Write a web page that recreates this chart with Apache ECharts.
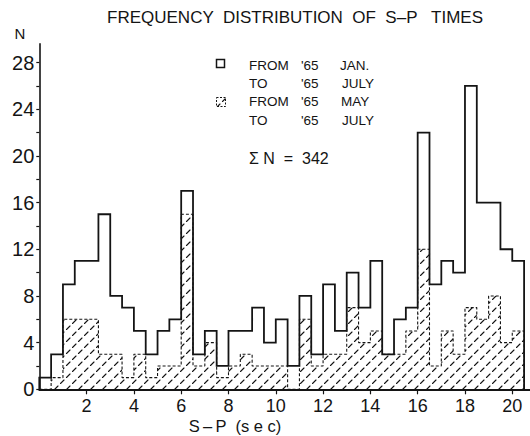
<!DOCTYPE html>
<html>
<head>
<meta charset="utf-8">
<title>Frequency distribution of S-P times</title>
<script src="https://cdn.jsdelivr.net/npm/echarts@6/dist/echarts.min.js"></script>
<style>
  html, body { margin: 0; padding: 0; background: #fff; }
  #chart { width: 530px; height: 436px; }
</style>
</head>
<body>
<div id="chart"></div>
<script>
// Lower edge of each 0.5 s S-P bin (sec)
const binStarts = [0, 0.5, 1, 1.5, 2, 2.5, 3, 3.5, 4, 4.5, 5, 5.5, 6, 6.5, 7, 7.5, 8, 8.5, 9, 9.5,
  10, 10.5, 11, 11.5, 12, 12.5, 13, 13.5, 14, 14.5, 15, 15.5, 16, 16.5, 17, 17.5, 18, 18.5, 19, 19.5, 20];
const binWidth = 0.5;

// Counts per bin, '65 Jan. to '65 July (total 342)
const janToJuly = [1, 3, 9, 11, 11, 15, 8, 7, 5, 3, 5, 6, 17, 3, 5, 2, 5, 5, 7, 4,
  6, 2, 8, 3, 9, 5, 10, 7, 11, 3, 6, 7, 22, 9, 11, 10, 26, 16, 16, 12, 11];

// Counts per bin, '65 May to '65 July
const mayToJuly = [0, 1, 6, 6, 6, 3, 3, 1, 3, 1, 2, 2, 15, 2, 4, 1, 2, 3, 2, 2,
  2, 0, 6, 2, 3, 3, 7, 4, 5, 3, 3, 5, 12, 2, 5, 3, 7, 6, 8, 4, 5];

const xTickLabels = [2, 4, 6, 8, 10, 12, 14, 16, 18, 20];
const yTickLabels = [0, 4, 8, 12, 16, 20, 24, 28];
const yTickMarks = [0, 2, 4, 6, 8, 10, 12, 14, 16, 18, 20, 22, 24, 26, 28];

const INK = '#141414';
const FONT = '"Liberation Sans Narrow", "Liberation Sans", Arial, sans-serif';
const FONT_WIDE = '"Liberation Sans", Arial, sans-serif';

// Outline of a histogram as step points: baseline -> bin tops -> baseline
function stepOutline(values) {
  const pts = [[binStarts[0], 0]];
  values.forEach((v, i) => pts.push([binStarts[i], v]));
  const end = binStarts[binStarts.length - 1] + binWidth;
  pts.push([end, values[values.length - 1]]);
  pts.push([end, 0]);
  return pts;
}

// Diagonal dashed hatching tile
function hatchTile() {
  const c = document.createElement('canvas');
  c.width = 12; c.height = 12;
  const g = c.getContext('2d');
  g.strokeStyle = INK;
  g.lineWidth = 1.1;
  g.lineCap = 'round';
  g.beginPath();
  g.moveTo(0.5, 11.5); g.lineTo(4.0, 8.0);
  g.moveTo(6.5, 5.5); g.lineTo(10.0, 2.0);
  g.stroke();
  return c;
}
const hatch = { image: hatchTile(), repeat: 'repeat' };

const chart = echarts.init(document.getElementById('chart'), null, { renderer: 'svg' });

const legendText = (x, y, t) => ({
  type: 'text', x: x, y: y,
  style: { text: t, fill: INK, font: '13.5px ' + FONT, textVerticalAlign: 'middle' }
});

chart.setOption({
  animation: false,
  backgroundColor: '#fff',
  grid: { left: 39.3, right: 0, top: 43.9, bottom: 46.7 },
  xAxis: {
    type: 'value', min: 0, max: 20.75, interval: 2,
    axisLine: { lineStyle: { color: INK, width: 2 } },
    axisTick: { customValues: xTickLabels, length: 5, lineStyle: { color: INK, width: 1.2 } },
    axisLabel: { customValues: xTickLabels, color: INK, fontSize: 18, fontFamily: FONT_WIDE, margin: 8 },
    splitLine: { show: false }
  },
  yAxis: {
    type: 'value', min: 0, max: 29.6, interval: 2,
    axisLine: { show: true, lineStyle: { color: INK, width: 1.6 } },
    axisTick: { customValues: yTickMarks, length: 3, lineStyle: { color: INK, width: 1.2 } },
    axisLabel: { customValues: yTickLabels, color: INK, fontSize: 20, fontFamily: FONT_WIDE, margin: 5 },
    splitLine: { show: false }
  },
  series: [
    {
      name: "FROM '65 MAY TO '65 JULY",
      type: 'line', step: 'end', symbol: 'none', z: 2,
      data: stepOutline(mayToJuly),
      lineStyle: { color: INK, width: 1.1, type: [3, 2] },
      areaStyle: { color: hatch, opacity: 1 }
    },
    {
      name: "FROM '65 JAN. TO '65 JULY",
      type: 'line', step: 'end', symbol: 'none', z: 3,
      data: stepOutline(janToJuly),
      lineStyle: { color: INK, width: 1.8, join: 'miter' }
    }
  ],
  graphic: [
    { type: 'text', x: 295, y: 17,
      style: { text: 'FREQUENCY  DISTRIBUTION  OF  S\u2013P   TIMES', fill: INK,
        font: '17px ' + FONT_WIDE, textAlign: 'center', textVerticalAlign: 'middle' } },
    { type: 'text', x: 20, y: 33,
      style: { text: 'N', fill: INK, font: '15px ' + FONT_WIDE, textAlign: 'center', textVerticalAlign: 'middle' } },
    { type: 'text', x: 235, y: 426,
      style: { text: 'S\u2009\u2013\u2009P  (s e c)', fill: INK, font: '16.5px ' + FONT_WIDE,
        textAlign: 'center', textVerticalAlign: 'middle' } },

    { type: 'rect', shape: { x: 216.5, y: 59.5, width: 8, height: 8 },
      style: { fill: '#fff', stroke: INK, lineWidth: 1.5 } },
    legendText(249, 65, 'FROM'), legendText(301, 65, "'65"), legendText(340, 65, 'JAN.'),
    legendText(249, 83.5, 'TO'), legendText(301, 83.5, "'65"), legendText(342, 83.5, 'JULY'),

    { type: 'rect', shape: { x: 216.5, y: 97.5, width: 9, height: 9 },
      style: { fill: hatch, stroke: INK, lineWidth: 1, lineDash: [2, 1.5] } },
    legendText(249, 101.5, 'FROM'), legendText(301, 101.5, "'65"), legendText(341, 101.5, 'MAY'),
    legendText(249, 120, 'TO'), legendText(301, 120, "'65"), legendText(342, 120, 'JULY'),

    { type: 'text', x: 249, y: 158,
      style: { text: '\u03A3 N  =  342', fill: INK, font: '16px ' + FONT_WIDE, textVerticalAlign: 'middle' } }
  ]
});
</script>
</body>
</html>
